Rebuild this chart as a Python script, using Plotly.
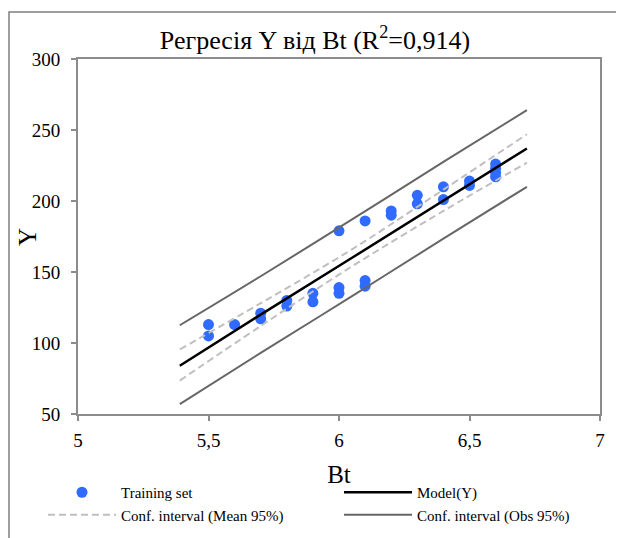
import plotly.graph_objects as go

# Training set
bt = [5.5, 5.5, 5.6, 5.7, 5.7, 5.8, 5.8, 5.9, 5.9, 6.0, 6.0, 6.0, 6.1, 6.1, 6.1,
      6.2, 6.2, 6.3, 6.3, 6.4, 6.4, 6.5, 6.5, 6.6, 6.6, 6.6, 6.6]
y_obs = [113, 105, 113, 121, 117, 130, 126, 135, 129, 139, 135, 179, 144, 140, 186,
         193, 190, 204, 198, 210, 201, 214, 211, 226, 223, 220, 217]

# Model and confidence bands (read at a few Bt positions)
bt_line = [5.39, 5.7, 6.05, 6.4, 6.72]
model_y = [84, 120, 160, 200.5, 237]
mean_hi = [95.5, 128, 166, 208, 247]
mean_lo = [73.5, 112, 154, 193, 227]
obs_hi = [112.5, 147, 187, 227.5, 264]
obs_lo = [57, 93, 133, 173.5, 210]

x_ticks = [5, 5.5, 6, 6.5, 7]
x_tick_labels = ["5", "5,5", "6", "6,5", "7"]
y_ticks = [50, 100, 150, 200, 250, 300]

FONT = "Liberation Serif, Times New Roman, serif"
DASH = "7px,4px"

fig = go.Figure()
fig.add_trace(go.Scatter(x=bt, y=y_obs, mode="markers", name="Training set",
                         marker=dict(color="#2F6BFF", size=11)))
fig.add_trace(go.Scatter(x=bt_line, y=model_y, mode="lines", name="Model(Y)",
                         line=dict(color="black", width=2.5)))
fig.add_trace(go.Scatter(x=bt_line, y=mean_hi, mode="lines", name="Conf. interval (Mean 95%)",
                         line=dict(color="#BFBFBF", width=2, dash=DASH, shape="spline")))
fig.add_trace(go.Scatter(x=bt_line, y=obs_hi, mode="lines", name="Conf. interval (Obs 95%)",
                         line=dict(color="#666666", width=2, shape="spline")))
fig.add_trace(go.Scatter(x=bt_line, y=mean_lo, mode="lines", showlegend=False,
                         line=dict(color="#BFBFBF", width=2, dash=DASH, shape="spline")))
fig.add_trace(go.Scatter(x=bt_line, y=obs_lo, mode="lines", showlegend=False,
                         line=dict(color="#666666", width=2, shape="spline")))

axis_common = dict(showgrid=False, zeroline=False, showline=True, mirror=True,
                   linecolor="#8C8C8C", linewidth=2, ticks="outside", ticklen=5,
                   tickcolor="#8C8C8C", tickwidth=2,
                   tickfont=dict(family=FONT, size=19, color="black"))

# figure coordinates (page offset of 8px compensated)
L, T, PW, PH = 70, 51, 522, 355
BOT = T + PH

fig.update_layout(
    width=624, height=538,
    margin=dict(l=L, r=624 - L - PW, t=T, b=538 - BOT, autoexpand=False),
    paper_bgcolor="white", plot_bgcolor="white",
    font=dict(family=FONT, color="black"),
    title=dict(text="Регресія Y від Bt (R<sup>2</sup>=0,914)", x=307/624, xanchor="center",
               y=1 - 32/538, yanchor="middle", font=dict(family=FONT, size=26, color="black")),
    xaxis=dict(range=[5, 7], tickvals=x_ticks, ticktext=x_tick_labels, ticklabelstandoff=3,
               title=dict(text="Bt", font=dict(family=FONT, size=25), standoff=16), **axis_common),
    yaxis=dict(range=[50, 300], tickvals=y_ticks, ticklabelstandoff=7, **axis_common),
    legend=dict(orientation="h", x=-(L - 35)/PW, xanchor="left", y=-(468 - BOT)/PH,
                yanchor="top", xref="paper", yref="paper", entrywidth=213,
                entrywidthmode="pixels", itemwidth=68,
                font=dict(family=FONT, size=15, color="black"),
                tracegroupgap=0, bgcolor="rgba(0,0,0,0)"),
    annotations=[
        dict(text="Y", textangle=-90, xref="paper", yref="paper", x=-(L - 19)/PW,
             y=(BOT - 229)/PH, xanchor="center", yanchor="middle", showarrow=False,
             font=dict(family=FONT, size=25, color="black")),
    ],
    shapes=[
        dict(type="rect", xref="paper", yref="paper", x0=-(L - 1)/PW, x1=(640 - L)/PW,
             y0=-150/PH, y1=1 + (T - 4)/PH, line=dict(color="#7F7F7F", width=1.5)),
    ],
)

fig.write_html("out.html")
